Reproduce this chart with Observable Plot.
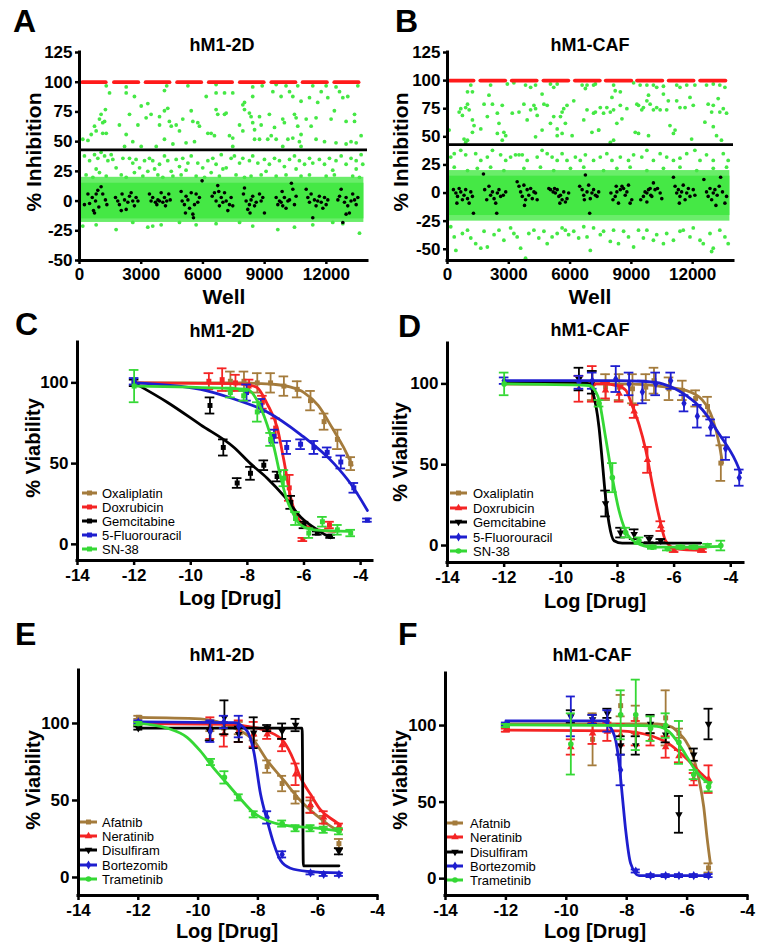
<!DOCTYPE html>
<html><head><meta charset="utf-8">
<script src="https://cdn.jsdelivr.net/npm/d3@7"></script>
<script src="https://cdn.jsdelivr.net/npm/@observablehq/plot@0.6"></script>
<style>
body{margin:0;background:#fff;font-family:"Liberation Sans",Arial,Helvetica,sans-serif;}
#fig{position:relative;width:771px;height:948px;overflow:hidden;background:#fff;}
.panel{position:absolute;}
.t{position:absolute;white-space:nowrap;color:#000;font-weight:bold;transform:translate(-50%,-50%);line-height:1;}
.tr{position:absolute;white-space:nowrap;color:#000;font-weight:bold;transform:translate(-50%,-50%) rotate(-90deg);line-height:1;}
.letter{position:absolute;font-weight:bold;font-size:32px;line-height:1;color:#000;}
.legtxt{position:absolute;font-size:13px;white-space:nowrap;line-height:1;transform:translateY(-50%);color:#000;}
.legsw{position:absolute;}
</style></head><body><div id="fig"></div>
<script>
// ---------------- DATA ----------------
const wellTicks = [0, 3000, 6000, 9000, 12000];
const inhibTicks = [-50, -25, 0, 25, 50, 75, 100, 125];
const viabTicks = [0, 50, 100];
const logTicks = [-14, -12, -10, -8, -6, -4];
const hitThreshold = 43;
const positiveLevel = 100;
const wellSpan = [0, 13824];

// Panel A (hM1-2D screen)
const A_bandCore = [-15, 15];
const A_bandFringe = [-18, 20];
const A_redStart = [160, 1700, 3240, 4770, 6310, 7820, 9350, 10870, 12410];
const A_redEnd = [1300, 2880, 4400, 5940, 7440, 8980, 10520, 12050, 13590];
const A_green = [
[1300,97],[2270,96],[4240,97],[5270,97],[6640,98],[8420,96],[8880,97],[9560,98],[10040,97],[10610,97],[11340,97],[11990,97],[12470,96],[13530,97],
[1460,91],[2270,91],[2670,88],[3000,80],[3320,82],[4130,93],[6160,88],[6640,91],[7050,91],[7450,91],[8020,83],[8420,88],[9400,92],[9800,88],[10210,92],[10370,88],[10770,84],[11180,87],[11580,83],[11750,92],[12070,87],[12640,92],[12800,87],[13040,88],
[1050,73],[970,69],[1130,66],[1220,67],[730,63],[810,59],[570,56],[1260,77],[1940,64],[2430,73],[2840,64],[3240,70],[3480,73],[3890,71],[3890,64],[4130,76],[4290,78],[4370,67],[4460,63],[4700,64],[4860,59],[5020,69],[5430,76],[5510,67],[5750,66],[5830,63],[6240,57],[6640,77],[6720,73],[7050,73],[7130,74],[7290,55],[7780,64],[7940,81],[8020,77],[8260,74],[8340,71],[8420,66],[8510,60],[8750,71],[8830,64],[9230,73],[9480,62],[9880,69],[9960,66],[10450,73],[10530,70],[10610,63],[10770,56],[11020,69],[11260,63],[11500,70],[12230,69],[12390,76],[12960,67],[13370,73],[13370,67],
[160,52],[410,51],[1130,57],[1300,57],[2190,46],[2270,56],[2590,50],[3000,46],[3730,46],[4130,52],[4540,48],[5180,49],[5590,50],[6400,57],[6560,55],[7450,53],[7450,46],[7940,59],[8510,52],[8750,52],[9150,52],[9320,55],[9560,52],[9880,46],[10130,52],[10370,53],[10690,50],[10770,46],[11500,52],[11910,50],[12470,49],[12960,48],[13200,50],[13450,49],[13690,55],
[240,38],[490,34],[730,39],[890,36],[1050,41],[1220,38],[1380,34],[1540,39],[1620,35],[1780,28],[2110,36],[2430,36],[2590,32],[2750,35],[2920,28],[3160,34],[3400,36],[3560,34],[3650,27],[3890,31],[4130,38],[4290,34],[4460,25],[4700,35],[4860,29],[5020,36],[5270,32],[5430,38],[5750,32],[5990,28],[6240,34],[6480,36],[6640,31],[6890,39],[7130,28],[7370,36],[7530,38],[7780,32],[7940,36],[8260,34],[8420,38],[8670,32],[8990,35],[9230,31],[9480,36],[9720,34],[9960,29],[10210,35],[10450,38],[10690,34],[10940,31],[11180,36],[11340,32],[11660,35],[11910,31],[12150,36],[12470,34],[12720,38],[12960,31],[13200,36],[13450,34],[13690,39],[13770,31],
[320,22],[650,20],[970,24],[1300,21],[2030,22],[2270,20],[2670,24],[3080,21],[3810,22],[4050,20],[4540,21],[4940,22],[5670,21],[6080,20],[6400,24],[6800,21],[7610,22],[8020,20],[8340,21],[8830,22],[9560,21],[10040,22],[10770,21],[11180,22],[11990,21],[12390,22],[13280,21],[13610,20],
[810,27],[3320,25],[5180,26],[6970,27],[9070,25],[10530,27],[12310,26],[13450,27],
[160,-21],[810,-20],[1780,-24],[2590,-18],[3320,-22],[3560,-21],[3970,-20],[4860,-18],[5670,-20],[6640,-19],[7780,-18],[8420,-21],[9640,-24],[10450,-22],[11340,-20],[12800,-19],[13610,-27],[12310,-18]
];
const A_black = [
[240,-3],[410,6],[620,3],[680,-8],[780,0],[890,9],[940,-5],[1050,12],[1130,6],[1260,1],[1330,-3],[490,-2],[810,6],[730,-10],
[1750,3],[1860,0],[1940,-3],[2070,6],[2190,1],[2270,-7],[2350,-1],[2430,4],[2510,7],[2590,0],[2670,-4],[2750,3],[2840,0],[2030,-8],
[3400,6],[3480,0],[3560,3],[3690,-1],[3810,1],[3890,0],[3970,7],[4050,-1],[4130,3],[4240,0],[4340,6],[4410,1],[3760,-3],[4180,-4],
[4940,8],[4990,0],[5100,-3],[5180,4],[5270,1],[5350,-6],[5430,7],[5510,-11],[5590,-3],[5670,6],[5750,-1],[5830,3],[5150,-10],[5540,-14],
[6450,4],[6560,7],[6640,0],[6720,13],[6800,-4],[6890,3],[6970,-1],[7050,7],[7130,0],[7210,-8],[7290,-3],[7370,3],[7450,-4],[6770,8],
[7970,6],[8020,11],[8100,0],[8180,-7],[8260,-3],[8340,1],[8420,4],[8510,-4],[8590,-1],[8750,6],[8830,0],[8910,3],[8990,-10],[8290,-10],
[9560,3],[9640,-3],[9720,0],[9800,-1],[9880,-4],[9960,3],[10040,-6],[10130,0],[10210,1],[10300,15],[10370,10],[10450,-3],[10530,4],[9850,8],
[11020,10],[11100,3],[11180,-1],[11260,6],[11340,-14],[11420,1],[11500,-4],[11580,0],[11660,4],[11750,-1],[11830,-6],[11910,3],[11990,-3],[12070,1],
[12560,1],[12640,4],[12720,10],[12800,-18],[12880,-1],[12960,3],[13040,-4],[13120,-10],[13200,0],[13280,6],[13370,1],[13450,-3],[13530,3],[12960,-11],
[5960,17]
];

// Panel B (hM1-CAF screen)
const B_bandCore = [-20, 15];
const B_bandFringe = [-25, 20];
const B_redStart = [130, 1630, 3170, 4720, 6260, 7770, 9300, 10850, 12390];
const B_redEnd = [1300, 2850, 4390, 5940, 7480, 9020, 10540, 12070, 13630];
const B_green = [
[1140,96],[1220,90],[980,90],[2110,96],[2030,87],[2930,97],[3250,98],[3820,96],[4070,94],[4310,96],[5040,97],[5200,94],[5370,97],[6590,96],[6750,93],[6830,96],[7150,96],[8130,96],[8210,91],[8460,90],[9430,96],[9760,96],[10080,96],[10240,94],[10570,95],[11220,96],[11380,94],[11710,96],[12110,96],[12680,96],[13010,97],[13330,96],[13580,94],[9110,98],[7240,97],
[570,72],[650,75],[730,69],[890,76],[1060,74],[980,79],[1220,65],[1300,60],[1630,57],[1790,79],[1950,68],[2200,79],[2440,71],[2520,62],[2680,78],[2760,54],[2850,51],[3170,71],[3500,72],[3740,79],[3900,65],[4070,74],[4230,78],[4310,75],[4390,69],[4630,88],[4720,79],[4880,78],[5040,62],[5200,68],[5370,57],[5530,68],[5610,72],[5690,75],[5770,62],[5850,78],[6100,51],[6180,82],[6670,65],[6830,74],[7150,71],[7240,72],[7400,56],[7480,76],[7640,71],[7800,76],[7970,72],[8050,85],[8130,74],[8290,62],[8460,78],[8540,66],[8780,75],[9270,79],[9350,78],[9510,74],[9590,76],[9760,82],[9840,87],[9920,79],[10080,74],[10240,76],[10410,74],[10570,88],[10730,74],[10810,82],[10890,60],[11140,56],[11220,82],[11380,76],[11630,76],[11870,85],[12030,78],[12600,63],[12760,79],[12930,72],[13010,78],[13250,84],[13330,72],[13500,75],[13660,71],[13010,59],
[80,56],[810,48],[890,45],[980,47],[1220,54],[2440,53],[2680,47],[4310,50],[4630,56],[5370,51],[5610,53],[7070,54],[7400,56],[7970,45],[8130,47],[9190,54],[9350,53],[9840,51],[11060,53],[11950,48],[13170,51],[13410,47],
[160,32],[330,35],[650,38],[890,34],[1380,35],[1630,29],[1950,32],[2200,38],[2600,34],[2850,29],[3090,32],[3330,34],[3500,34],[3660,34],[3900,29],[4390,32],[4630,38],[4880,35],[5120,32],[5370,29],[5610,35],[5850,29],[6260,32],[6500,29],[6750,34],[7150,29],[7480,32],[7800,35],[8050,29],[8460,32],[8860,29],[9110,34],[9510,32],[9760,38],[10080,29],[10410,35],[10730,32],[11060,29],[11380,31],[11710,35],[12110,38],[12360,29],[12680,34],[13010,29],[13500,35],[13740,29],
[330,23],[980,20],[1460,22],[2110,23],[2760,20],[3740,22],[4550,23],[5200,20],[6020,22],[6670,23],[7640,20],[8290,22],[8940,23],[9760,20],[10570,22],[11380,23],[12200,20],[13010,22],[13660,23],
[160,-30],[330,-39],[410,-51],[730,-36],[980,-33],[1140,-40],[1380,-45],[1630,-49],[1790,-34],[1950,-48],[2280,-37],[2520,-33],[2760,-42],[3090,-31],[3250,-36],[3410,-39],[3580,-49],[3820,-58],[3980,-36],[4230,-33],[4470,-40],[4720,-34],[4880,-45],[5120,-39],[5370,-36],[5610,-31],[5770,-33],[5930,-37],[6180,-34],[6420,-40],[6670,-30],[6830,-39],[6990,-51],[7150,-31],[7480,-37],[7640,-34],[7970,-43],[8130,-33],[8370,-45],[8620,-34],[8860,-39],[9110,-48],[9350,-33],[9590,-40],[9760,-33],[10080,-42],[10240,-37],[10570,-45],[10730,-36],[11060,-42],[11380,-34],[11540,-33],[11870,-39],[12030,-31],[12360,-42],[12520,-45],[12850,-36],[13010,-49],[13330,-33],[13580,-39],[13740,-45],[12930,-52]
];
const B_black = [
[290,3],[410,0],[490,-3],[570,4],[650,1],[730,-6],[810,-2],[890,3],[980,-5],[1060,-9],[1140,1],[1220,-3],[1270,-18],[460,-9],
[1760,17],[1820,3],[1920,-6],[2030,6],[2110,-2],[2200,1],[2280,-5],[2360,-9],[2440,0],[2520,3],[2600,-3],[2730,-2],[2850,1],[2410,-18],
[3410,10],[3500,6],[3580,1],[3660,-3],[3740,7],[3820,-6],[3900,3],[3980,-2],[4070,4],[4150,-5],[4230,1],[4310,0],[4390,-6],[3770,-11],
[4960,4],[5040,3],[5170,1],[5280,0],[5370,3],[5450,-3],[5530,-2],[5610,-6],[5690,1],[5770,-8],[5850,-5],[5930,0],[5240,4],[5500,-9],
[6470,6],[6590,3],[6670,-2],[6750,16],[6830,1],[6910,7],[6990,-5],[7070,0],[7150,3],[7240,-2],[7320,-3],[7400,1],[6960,-18],[6700,-6],
[8000,0],[8100,-6],[8210,-3],[8290,1],[8370,-9],[8460,3],[8540,6],[8620,4],[8780,1],[8860,7],[8940,-9],[9020,-6],[8260,6],[8700,-2],
[9460,-6],[9590,-3],[9670,1],[9760,0],[9840,3],[9920,4],[10000,-3],[10080,9],[10160,3],[10280,4],[10410,0],[10490,-5],[9760,-8],[9950,-2],
[11060,14],[11140,6],[11220,0],[11300,3],[11380,-3],[11460,1],[11540,7],[11630,-6],[11710,0],[11790,4],[11870,-3],[12030,3],[12110,-2],[11350,-9],
[12550,12],[12680,1],[12760,-3],[12850,4],[12930,-6],[13010,0],[13090,3],[13200,-2],[13300,6],[13370,14],[13460,1],[13580,-9],[13660,-3],[13140,-11]
];

// Panels C/D: [log dose, % viability, error]
const drugsCD = ["Oxaliplatin", "Doxrubicin", "Gemcitabine", "5-Fluorouracil", "SN-38"];
const C_Oxaliplatin = [[-8.6,101,6],[-8.12,101,6],[-7.65,100,6],[-7.18,100,6],[-6.71,98,6],[-6.24,96,5],[-5.77,89,6],[-5.29,76,5],[-4.82,65,6],[-4.35,50,4]];
const C_Oxaliplatin_fit = [[-12,100],[-9,100],[-8,100],[-7.5,99.5],[-7,99],[-6.5,97.5],[-6,94],[-5.5,86],[-5,72],[-4.6,60],[-4.3,49]];
const C_Doxrubicin = [[-9.36,101,5],[-8.89,102,7],[-8.42,100,5],[-7.94,98,4],[-7.47,88,4],[-7.0,72,6],[-6.52,35,8],[-6.04,3,1],[-5.1,12,2]];
const C_Doxrubicin_fit = [[-12,100],[-8.5,99.5],[-7.9,98.5],[-7.65,97],[-7.3,87],[-6.94,72],[-6.71,52],[-6.47,29],[-6.24,17],[-5.9,11],[-5.5,9],[-4.9,8]];
const C_Gemcitabine = [[-12,100,2],[-9.32,86,5],[-8.85,60,5],[-8.36,38,3],[-7.89,44,4],[-7.42,49,3],[-6.95,42,3],[-6.47,26,4],[-6.0,12,2],[-5.53,7,1],[-5.06,5,1]];
const C_Gemcitabine_fit = [[-12,100],[-10.83,88],[-9.65,74],[-8.47,60],[-7.89,50],[-7.3,41],[-6.71,30],[-6.12,17],[-5.53,9],[-5.06,4]];
const C_Fluorouracil = [[-12,101,2],[-8.03,94,5],[-7.53,86,4],[-7.06,67,4],[-6.61,60,4],[-6.12,62,3],[-5.65,60,4],[-5.18,57,3],[-4.7,51,4],[-4.24,35,3],[-3.76,15,1]];
const C_Fluorouracil_fit = [[-12,100],[-9.65,96],[-8.47,90],[-7.3,82],[-6.12,68],[-4.94,50],[-4.35,37.5],[-3.76,21]];
const C_SN38 = [[-12,98,10],[-8.6,94,3],[-8.13,92,3],[-7.65,82,6],[-7.18,65,4],[-6.71,41,5],[-6.3,16,4],[-5.83,7,3],[-5.35,14,3],[-4.82,9,3],[-4.35,7,2]];
const C_SN38_fit = [[-12,98],[-8.6,96.5],[-8.0,96],[-7.65,89],[-7.3,74],[-7.06,60],[-6.83,42],[-6.59,27],[-6.35,18],[-6.12,12],[-5.65,9],[-4.35,8]];

const D_Oxaliplatin = [[-8.89,99,9],[-8.42,98,8],[-7.94,98,8],[-7.47,97,9],[-7.0,98,8],[-6.71,102,8],[-6.18,97,7],[-5.71,96,6],[-5.24,91,5],[-4.82,86,6],[-4.35,51,11]];
const D_Oxaliplatin_fit = [[-12,100],[-8,100],[-7,99.5],[-6.5,98.5],[-5.59,96],[-5.0,90],[-4.65,79],[-4.41,63],[-4.29,51]];
const D_Doxrubicin = [[-9.36,97,8],[-8.89,100,11],[-8.42,96,5],[-7.94,94,5],[-7.41,83,4],[-6.94,53,8],[-6.47,12,3],[-6.0,-3,1],[-5.0,-3,1]];
const D_Doxrubicin_fit = [[-12,100],[-8.5,100],[-8.0,99],[-7.7,96],[-7.47,86],[-7.24,75],[-7.0,59],[-6.77,38],[-6.53,18],[-6.3,3],[-5.94,-2],[-5.0,-3]];
const D_Gemcitabine = [[-9.36,103,7],[-8.89,101,7],[-8.42,26,8],[-7.89,8,3],[-7.41,7,3],[-6.88,4,2],[-6.47,3,1]];
const D_Gemcitabine_fit = [[-12,101],[-9.3,101],[-9.0,100],[-8.89,96],[-8.65,73],[-8.53,51],[-8.42,30],[-8.3,14],[-8.12,3],[-7.83,1.5],[-5.06,1.5]];
const D_Fluorouracil = [[-12,102,2],[-9.36,101,4],[-8.89,102,5],[-8.06,103,8],[-7.59,100,7],[-7.12,95,7],[-6.65,100,7],[-6.12,102,5],[-5.65,88,5],[-5.18,80,7],[-4.71,73,5],[-4.18,60,7],[-3.7,42,5]];
const D_Fluorouracil_fit = [[-12,102],[-8,102],[-7,101.5],[-6.41,100],[-5.59,93],[-5.0,84],[-4.41,69],[-3.82,52],[-3.65,45]];
const D_SN38 = [[-12,100,7],[-8.65,88,2],[-8.18,42,9],[-7.71,8,3],[-7.24,3,2],[-6.77,-1,1],[-6.24,-2,1],[-5.76,-1,1],[-5.3,-1,1],[-4.82,0,1],[-4.35,0,3]];
const D_SN38_fit = [[-12,100],[-9,99],[-8.89,98],[-8.65,90],[-8.42,67],[-8.18,42],[-7.95,22],[-7.71,9],[-7.36,2],[-6.77,-1],[-6,-1],[-4.35,-0.5]];

// Panels E/F
const drugsEF = ["Afatnib", "Neratinib", "Disulfiram", "Bortezomib", "Trametinib"];
const E_Afatnib = [[-12,104,1],[-9.59,98,3],[-9.14,97,4],[-8.64,97,4],[-8.14,93,4],[-7.69,72,4],[-7.19,61,5],[-6.74,52,4],[-6.24,46,4],[-5.8,36,4],[-5.29,22,3]];
const E_Afatnib_fit = [[-12,104],[-9.92,103],[-8.8,97],[-8.14,89],[-7.69,76],[-7.13,63],[-6.58,50],[-6.02,40],[-5.46,32],[-5.24,30]];
const E_Neratinib = [[-12,100,1],[-9.59,97,7],[-9.14,93,8],[-8.64,95,7],[-8.14,93,8],[-7.69,93,3],[-7.19,86,4],[-6.74,67,7],[-6.24,47,5],[-5.8,39,4],[-5.29,33,2]];
const E_Neratinib_fit = [[-12,100],[-9,99.5],[-8.3,98],[-7.69,95],[-7.13,88],[-6.8,76],[-6.58,65],[-6.24,54],[-5.91,44],[-5.46,37],[-5.24,34]];
const E_Disulfiram = [[-12,97,1],[-9.61,95,6],[-9.12,104,11],[-8.64,93,5],[-8.14,94,10],[-7.69,97,2],[-7.19,95,5],[-6.74,99,4],[-5.29,17,2]];
const E_Disulfiram_fit = [[-12,97],[-6.52,97],[-6.48,7.6],[-5.29,7.6]];
const E_Bortezomib = [[-12,101,1],[-9.59,95,7],[-9.14,101,4],[-8.64,98,7],[-7.69,39,4],[-7.19,15,2],[-6.24,3,1],[-5.8,2,1],[-5.29,2,1]];
const E_Bortezomib_fit = [[-12,101],[-9,100.6],[-8.81,100.6],[-8.36,95],[-8.14,82],[-7.91,54],[-7.69,37],[-7.47,22],[-7.24,11],[-6.91,6],[-6.35,4],[-5.24,3]];
const E_Trametinib = [[-12,100,1],[-9.57,75,2],[-9.12,65,4],[-8.64,52,2],[-8.14,41,2],[-7.19,35,2],[-6.74,32,2],[-6.24,32,2],[-5.8,31,2],[-5.29,30,2]];
const E_Trametinib_fit = [[-12,100],[-11.04,97],[-10.37,91],[-9.92,82],[-9.48,71],[-9.03,61],[-8.58,51],[-8.14,42],[-7.69,37],[-7.13,34],[-6.02,32],[-5.24,30]];

const F_Afatnib = [[-12,100,1],[-9.13,91,17],[-8.2,113,7],[-7.7,104,9],[-6.71,105,18],[-6.27,95,3],[-5.29,7,3]];
const F_Afatnib_fit = [[-12,101],[-7,101],[-6.5,99],[-6.27,95],[-6.05,90],[-5.84,82],[-5.62,66],[-5.45,47],[-5.34,27],[-5.23,10]];
const F_Neratinib = [[-12,97,1],[-9.85,86,5],[-9.13,95,7],[-8.64,96,6],[-8.2,94,7],[-7.7,95,8],[-7.21,91,4],[-6.71,86,7],[-6.27,80,4],[-5.78,65,4],[-5.29,65,9]];
const F_Neratinib_fit = [[-12,97],[-8.25,96.5],[-7.15,93],[-6.6,88],[-6.05,79],[-5.5,68],[-5.23,63]];
const F_Disulfiram = [[-9.85,106,4],[-9.13,104,3],[-8.64,108,3],[-8.2,87,6],[-7.7,87,6],[-7.21,101,6],[-6.71,94,5],[-6.27,42,12],[-5.78,81,4],[-5.29,101,10]];
const F_Bortezomib = [[-12,101,1],[-9.85,106,13],[-9.13,104,3],[-8.64,103,7],[-8.2,71,10],[-7.7,5,1],[-7.21,2,1],[-6.71,2,1],[-6.27,2,1],[-5.78,2,1],[-5.29,2,1]];
const F_Bortezomib_fit = [[-12,103],[-8.8,103],[-8.58,100],[-8.36,90],[-8.25,75],[-8.14,53],[-8.03,31],[-7.87,10],[-7.59,2],[-5.29,2]];
const F_Trametinib = [[-12,100,1],[-9.85,88,20],[-8.2,107,16],[-7.7,107,23],[-7.21,98,8],[-6.71,100,8],[-6.27,89,14],[-5.78,68,3],[-5.29,60,3]];
const F_Trametinib_fit = [[-12,100.5],[-7.5,100],[-7.0,99.5],[-6.6,96],[-6.27,88],[-6.05,81],[-5.73,71],[-5.4,64],[-5.23,62]];

// ---------------- STYLE ----------------
const FONT = '"Liberation Sans", Arial, Helvetica, sans-serif';
const SCAT_GREEN = "#45e845";
const BROWN = "#a47b3c", RED = "#f42424", BLACK = "#000000", BLUE = "#1e1ecf", GREEN = "#35d835";
const sq3 = Math.sqrt(3);
const triDown = { draw(ctx, size) { const y = -Math.sqrt(size / (sq3 * 3)); ctx.moveTo(0, -y * 2); ctx.lineTo(-sq3 * y, y); ctx.lineTo(sq3 * y, y); ctx.closePath(); } };
const styleCD = [
  {color: BROWN, symbol: "square"}, {color: RED, symbol: "square"}, {color: BLACK, symbol: "square"},
  {color: BLUE, symbol: "square"}, {color: GREEN, symbol: "square"}];
const styleMixed = [
  {color: BROWN, symbol: "square"}, {color: RED, symbol: "triangle"}, {color: BLACK, symbol: triDown},
  {color: BLUE, symbol: "diamond"}, {color: GREEN, symbol: "circle"}];
const symbolType = {square: d3.symbolSquare, triangle: d3.symbolTriangle, diamond: d3.symbolDiamond, circle: d3.symbolCircle};

const fig = document.getElementById("fig");
function place(el, left, top) {
  const d = document.createElement("div");
  d.className = "panel"; d.style.left = left + "px"; d.style.top = top + "px";
  d.appendChild(el); fig.appendChild(d);
}
function text(cls, str, x, y, size) {
  const d = document.createElement("div");
  d.className = cls; d.textContent = str;
  d.style.left = x + "px"; d.style.top = y + "px";
  if (size) d.style.fontSize = size + "px";
  fig.appendChild(d);
}
function letter(str, x, y) {
  const d = document.createElement("div");
  d.className = "letter"; d.textContent = str;
  d.style.left = x + "px"; d.style.top = y + "px";
  fig.appendChild(d);
}

function axes(xTicks, yTicks, xDom, yDom, ts) {
  const fmt = d => String(d);
  return [
    Plot.axisX({ticks: xTicks, tickFormat: fmt, tickSize: ts.x, tickPadding: ts.xp, strokeWidth: 2.5, fontSize: ts.fs, fontWeight: "bold", label: null}),
    Plot.axisY({ticks: yTicks, tickFormat: fmt, tickSize: ts.y, tickPadding: ts.yp, strokeWidth: 2.5, fontSize: ts.fs, fontWeight: "bold", label: null}),
    Plot.ruleX([xDom[0]], {strokeWidth: 3, strokeLinecap: "square"}),
    Plot.ruleY([yDom[0]], {strokeWidth: 3, strokeLinecap: "square"})
  ];
}

function screenPanel(c) {
  const xDom = [0, 14000];
  const band = (b, op) => Plot.rect([b], {x1: () => wellSpan[0], x2: () => wellSpan[1], y1: d => d[0], y2: d => d[1], fill: SCAT_GREEN, fillOpacity: op});
  return Plot.plot({
    width: c.width, height: 310, marginTop: 52, marginBottom: 50, marginLeft: c.ml, marginRight: c.mr,
    x: {domain: xDom}, y: {domain: c.yDom},
    style: {fontFamily: FONT, background: "transparent", color: "black"},
    marks: [
      band(c.fringe, 0.8),
      band(c.core, 1),
      Plot.dot(c.green, {x: d => d[0], y: d => d[1], r: 1.9, fill: SCAT_GREEN}),
      Plot.dot(c.black, {x: d => d[0], y: d => d[1], r: 1.8, fill: "black"}),
      Plot.ruleY(c.redStart.map((s, i) => [s, c.redEnd[i]]), {y: () => positiveLevel, x1: d => d[0], x2: d => d[1], stroke: "#ff1a1a", strokeWidth: 3.8, strokeLinecap: "round"}),
      Plot.ruleY([hitThreshold], {stroke: "black", strokeWidth: 2.8}),
      ...axes(wellTicks, inhibTicks, xDom, c.yDom, {x: 4, xp: 3, y: 4, yp: 3, fs: 17})
    ]
  });
}

function dosePanel(c) {
  const marks = [];
  c.series.forEach((s, i) => {
    const st = c.styles[i];
    marks.push(Plot.ruleX(s.pts, {x: d => d[0], y1: d => d[1] - d[2], y2: d => d[1] + d[2], stroke: st.color, strokeWidth: 1.8}));
    marks.push(Plot.ruleY(s.pts, {y: d => d[1] + d[2], x1: d => d[0] - c.cap, x2: d => d[0] + c.cap, stroke: st.color, strokeWidth: 1.8}));
    marks.push(Plot.ruleY(s.pts, {y: d => d[1] - d[2], x1: d => d[0] - c.cap, x2: d => d[0] + c.cap, stroke: st.color, strokeWidth: 1.8}));
    if (s.fit) marks.push(Plot.line(s.fit, {x: d => d[0], y: d => d[1], stroke: st.color, strokeWidth: 2.8, curve: "monotone-x"}));
    marks.push(Plot.dot(s.pts, {x: d => d[0], y: d => d[1], symbol: st.symbol, r: 2.8, fill: st.color, stroke: "none"}));
  });
  return Plot.plot({
    width: c.width, height: c.height, marginTop: c.mt, marginBottom: c.mb, marginLeft: c.ml, marginRight: c.mr,
    x: {domain: c.xDom}, y: {domain: c.yDom},
    style: {fontFamily: FONT, background: "transparent", color: "black"},
    marks: [...marks, ...axes(logTicks, viabTicks, c.xDom, c.yDom, {x: 5, xp: 3, y: 6, yp: 3, fs: 17})]
  });
}

function legend(names, styles, sx0, sx1, tx, rows) {
  names.forEach((n, i) => {
    const st = styles[i];
    const w = sx1 - sx0, h = 12;
    const svg = d3.create("svg").attr("width", w).attr("height", h).attr("class", "legsw")
      .style("left", sx0 + "px").style("top", (rows[i] - h / 2) + "px");
    svg.append("line").attr("x1", 0).attr("x2", w).attr("y1", h / 2).attr("y2", h / 2).attr("stroke", st.color).attr("stroke-width", 3);
    const type = typeof st.symbol === "string" ? symbolType[st.symbol] : st.symbol;
    svg.append("path").attr("d", d3.symbol().type(type).size(2.8 * 2.8 * Math.PI)()).attr("transform", `translate(${w / 2},${h / 2})`).attr("fill", st.color);
    fig.appendChild(svg.node());
    const t = document.createElement("div");
    t.className = "legtxt"; t.textContent = n;
    t.style.left = tx + "px"; t.style.top = rows[i] + "px";
    fig.appendChild(t);
  });
}

// ---------------- BUILD ----------------
place(screenPanel({width: 385, ml: 79, mr: 18, yDom: [-50, 125], core: A_bandCore, fringe: A_bandFringe, green: A_green, black: A_black, redStart: A_redStart, redEnd: A_redEnd}), 0, 0);
place(screenPanel({width: 386, ml: 62, mr: 38, yDom: [-60, 125], core: B_bandCore, fringe: B_bandFringe, green: B_green, black: B_black, redStart: B_redStart, redEnd: B_redEnd}), 385, 0);

place(dosePanel({width: 385, height: 320, mt: 32, mb: 70, ml: 77, mr: 13, xDom: [-14, -3.58], yDom: [-10, 125], cap: 0.17, styles: styleCD,
  series: [{pts: C_Oxaliplatin, fit: C_Oxaliplatin_fit}, {pts: C_Doxrubicin, fit: C_Doxrubicin_fit}, {pts: C_Gemcitabine, fit: C_Gemcitabine_fit}, {pts: C_Fluorouracil, fit: C_Fluorouracil_fit}, {pts: C_SN38, fit: C_SN38_fit}]}), 0, 310);
place(dosePanel({width: 386, height: 320, mt: 33, mb: 68, ml: 62, mr: 28, xDom: [-14, -3.55], yDom: [-10.5, 125], cap: 0.17, styles: styleMixed,
  series: [{pts: D_Oxaliplatin, fit: D_Oxaliplatin_fit}, {pts: D_Doxrubicin, fit: D_Doxrubicin_fit}, {pts: D_Gemcitabine, fit: D_Gemcitabine_fit}, {pts: D_Fluorouracil, fit: D_Fluorouracil_fit}, {pts: D_SN38, fit: D_SN38_fit}]}), 385, 310);
place(dosePanel({width: 385, height: 318, mt: 40, mb: 53, ml: 78, mr: 8, xDom: [-14, -4], yDom: [-11.7, 134.4], cap: 0.15, styles: styleMixed,
  series: [{pts: E_Afatnib, fit: E_Afatnib_fit}, {pts: E_Neratinib, fit: E_Neratinib_fit}, {pts: E_Disulfiram, fit: E_Disulfiram_fit}, {pts: E_Bortezomib, fit: E_Bortezomib_fit}, {pts: E_Trametinib, fit: E_Trametinib_fit}]}), 0, 630);
place(dosePanel({width: 386, height: 318, mt: 43, mb: 53, ml: 60, mr: 24, xDom: [-14, -4], yDom: [-11, 134], cap: 0.15, styles: styleMixed,
  series: [{pts: F_Afatnib, fit: F_Afatnib_fit}, {pts: F_Neratinib, fit: F_Neratinib_fit}, {pts: F_Disulfiram, fit: null}, {pts: F_Bortezomib, fit: F_Bortezomib_fit}, {pts: F_Trametinib, fit: F_Trametinib_fit}]}), 385, 630);

// letters
letter("A", 13, 5); letter("B", 395, 5);
letter("C", 15, 308); letter("D", 398, 310);
letter("E", 15, 618); letter("F", 398, 618);
// titles
text("t", "hM1-2D", 222, 45, 18); text("t", "hM1-CAF", 590, 45, 18);
text("t", "hM1-2D", 222, 331, 18); text("t", "hM1-CAF", 590, 330, 18);
text("t", "hM1-2D", 222, 655, 18); text("t", "hM1-CAF", 592, 655, 18);
// axis titles
text("tr", "% Inhibition", 33, 152, 21); text("tr", "% Inhibition", 400, 152, 21);
text("t", "Well", 224, 296, 21); text("t", "Well", 590, 296, 21);
text("tr", "% Viability", 33, 448, 20); text("tr", "% Viability", 400, 452, 20);
text("t", "Log [Drug]", 230, 598, 20); text("t", "Log [Drug]", 595, 601, 20);
text("tr", "% Viability", 33, 780, 20); text("tr", "% Viability", 400, 780, 20);
text("t", "Log [Drug]", 227, 931, 20); text("t", "Log [Drug]", 595, 931, 20);
// legends
legend(drugsCD, styleCD, 82, 97, 102, [493, 507, 521, 535, 549]);
legend(drugsCD, styleMixed, 450, 467, 473, [493, 508, 522, 537, 551]);
legend(drugsEF, styleMixed, 80, 97, 102, [822, 836, 850, 865, 879]);
legend(drugsEF, styleMixed, 447, 463, 470, [823, 837, 852, 866, 880]);
</script>
</body></html>
